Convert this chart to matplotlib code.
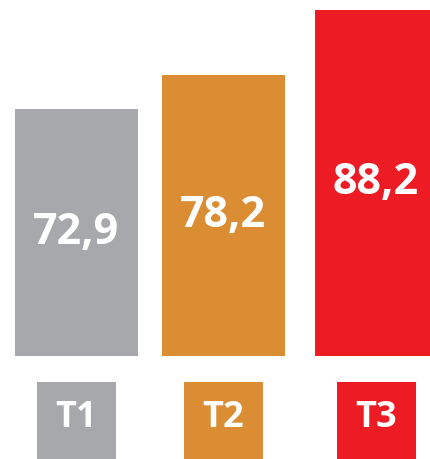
import matplotlib
matplotlib.use("Agg")
import matplotlib.pyplot as plt

categories = ["T1", "T2", "T3"]
values = [72.9, 78.2, 88.2]
value_labels = ["72,9", "78,2", "88,2"]
colors = ["#A7A8AB", "#DA8D32", "#ED1C24"]

W, H = 430, 459
fig = plt.figure(figsize=(W / 100, H / 100), dpi=100)

# layout in pixels
x0, step = 76.5, 149.75
xlim = (-x0 / step, (W - x0) / step)
xpos = [0, 0.98, 2]
base, top = 35.1, 89.7

# bars
ax = fig.add_axes([0, 103.5 / H, 1, 355.5 / H])
ax.bar(xpos, values, width=123 / step, color=colors)
ax.set_xlim(*xlim)
ax.set_ylim(base, top)
ax.axis("off")
for x, v, lab in zip(xpos, values, value_labels):
    ax.text(x, (base + v) / 2, lab, ha="center", va="center", color="white",
            fontsize=31, fontweight="bold", family="Open Sans")

# category boxes
ax2 = fig.add_axes([0, 0, 1, 77 / H])
ax2.bar(xpos, [1] * len(xpos), width=79 / step, color=colors)
ax2.set_xlim(*xlim)
ax2.set_ylim(0, 1)
ax2.axis("off")
for x, c in zip(xpos, categories):
    ax2.text(x, 0.53, c, ha="center", va="center", color="white",
             fontsize=26, fontweight="bold", family="Open Sans")

fig.savefig("out.png", dpi=100)
